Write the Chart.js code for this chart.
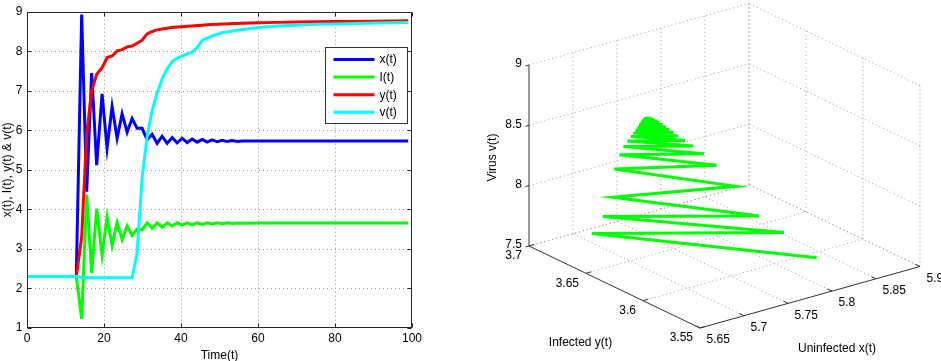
<!DOCTYPE html>
<html>
<head>
<meta charset="utf-8">
<script src="https://cdn.jsdelivr.net/npm/chart.js@4/dist/chart.umd.min.js"></script>
<style>
  html, body { margin: 0; padding: 0; background: #fff; }
  #wrap { position: relative; width: 941px; height: 361px; }
  #left { position: absolute; left: 0; top: 0; }
  #right { position: absolute; left: 470px; top: 0; }
</style>
</head>
<body>
<div id="wrap">
  <canvas id="left" width="470" height="361"></canvas>
  <canvas id="right" width="471" height="361"></canvas>
</div>
<script>
// ---- left panel: time series ----
const timeT = [0, 12.8, 14.2, 15.5, 16.8, 18.1, 19.5, 20.8, 22.1, 23.4, 24.7, 26.0, 27.3, 28.6, 29.9,
  31.2, 32.5, 33.8, 35.1, 36.4, 37.7, 39.0, 40.3, 41.6, 42.9, 44.2, 45.5, 46.8, 48.1, 49.4, 50.7,
  52.0, 53.3, 54.6, 56.0, 60, 65, 70, 75, 80, 85, 90, 95, 99];

const uninfectedX = [2.3, 2.3, 8.93, 4.45, 7.45, 5.12, 6.92, 5.55, 6.6, 5.8, 6.42, 5.95, 6.3, 6.05, 6.05,
  5.76, 5.9, 5.67, 5.85, 5.67, 5.82, 5.68, 5.8, 5.69, 5.78, 5.7, 5.77, 5.7, 5.76, 5.71, 5.75,
  5.715, 5.74, 5.72, 5.73, 5.73, 5.73, 5.73, 5.73, 5.73, 5.73, 5.73, 5.73, 5.73];

const latentI = [2.3, 2.3, 1.23, 4.37, 2.39, 4.02, 2.84, 3.81, 3.09, 3.67, 3.24, 3.58, 3.34, 3.5, 3.48,
  3.66, 3.52, 3.66, 3.55, 3.66, 3.58, 3.66, 3.6, 3.66, 3.61, 3.66, 3.62, 3.66, 3.63, 3.66, 3.64,
  3.66, 3.645, 3.655, 3.65, 3.655, 3.655, 3.655, 3.655, 3.655, 3.655, 3.655, 3.655, 3.655];

const infectedY = [2.3, 2.3, 3.3, 5.9, 7.0, 7.42, 7.58, 7.84, 7.88, 8.01, 8.04, 8.11, 8.13, 8.2, 8.28,
  8.44, 8.5, 8.54, 8.56, 8.58, 8.6, 8.61, 8.62, 8.63, 8.64, 8.65, 8.66, 8.67, 8.675, 8.68, 8.69,
  8.69, 8.7, 8.7, 8.705, 8.72, 8.73, 8.74, 8.745, 8.75, 8.755, 8.76, 8.765, 8.77];

const virusV = [2.3, 2.3, 2.28, 2.27, 2.27, 2.27, 2.27, 2.27, 2.27, 2.27, 2.27, 2.27, 2.27, 2.9, 4.8,
  5.85, 6.5, 6.95, 7.3, 7.55, 7.74, 7.83, 7.88, 7.93, 7.98, 8.1, 8.27, 8.33, 8.39, 8.43, 8.47,
  8.49, 8.51, 8.53, 8.55, 8.6, 8.64, 8.66, 8.68, 8.69, 8.7, 8.715, 8.72, 8.725];

const seriesNames = ['x(t)', 'I(t)', 'y(t)', 'v(t)'];
const seriesColors = ['#0000ff', '#00ff00', '#ff0000', '#00ffff'];

// ---- right panel: 3D trajectory (uninfected x, infected y, virus v) ----
const traj3dX = [5.8332, 5.6717, 5.8097, 5.6796, 5.7918, 5.6868, 5.7751, 5.6879, 5.7614, 5.6915,
  5.7523, 5.6944, 5.7446, 5.6972, 5.7387, 5.6997, 5.7338, 5.7015, 5.7304, 5.7031, 5.7275, 5.7046,
  5.7250, 5.7056, 5.7225, 5.7067, 5.7204, 5.7074, 5.7186, 5.7082, 5.7168, 5.7089, 5.7153, 5.7096,
  5.7139, 5.7107, 5.7125, 5.7115];
const traj3dY = [3.5891, 3.6617, 3.5996, 3.6582, 3.6077, 3.6550, 3.6152, 3.6544, 3.6214, 3.6528,
  3.6255, 3.6515, 3.6289, 3.6502, 3.6316, 3.6491, 3.6338, 3.6483, 3.6353, 3.6476, 3.6366, 3.6470,
  3.6377, 3.6465, 3.6389, 3.6460, 3.6398, 3.6457, 3.6407, 3.6453, 3.6415, 3.6450, 3.6421, 3.6447,
  3.6428, 3.6442, 3.6434, 3.6438];
const traj3dV = [7.5315, 7.7338, 7.7405, 7.8731, 7.8773, 8.0323, 8.1236, 8.2670, 8.2977, 8.3856,
  8.3930, 8.4536, 8.4577, 8.4992, 8.5033, 8.5365, 8.5406, 8.5655, 8.5697, 8.5904, 8.5945, 8.6111,
  8.6153, 8.6318, 8.6360, 8.6484, 8.6526, 8.6625, 8.6650, 8.6733, 8.6758, 8.6816, 8.6833, 8.6866,
  8.6874, 8.6891, 8.6899, 8.6899];

const xTicks3d = [5.65, 5.7, 5.75, 5.8, 5.85, 5.9];
const yTicks3d = [3.55, 3.6, 3.65, 3.7];
const vTicks3d = [7.5, 8, 8.5, 9];

const FONT = "'Liberation Sans', Arial, Helvetica, sans-serif";
Chart.defaults.font.family = FONT;
Chart.defaults.font.size = 12;
Chart.defaults.color = '#000';
Chart.defaults.animation = false;

function line(ctx, x1, y1, x2, y2) {
  ctx.beginPath();
  ctx.moveTo(x1, y1);
  ctx.lineTo(x2, y2);
  ctx.stroke();
}

// dotted grid, box and inward tick marks like matlab axes
const matlabBox = {
  id: 'matlabBox',
  beforeDatasetsDraw(chart) {
    const { ctx, chartArea: a, scales: { x, y } } = chart;
    ctx.save();
    ctx.strokeStyle = '#9a9a9a';
    ctx.lineWidth = 1;
    ctx.setLineDash([1, 3]);
    x.ticks.forEach(t => {
      const px = Math.round(x.getPixelForValue(t.value)) + 0.5;
      if (px < a.left + 2 || px > a.right - 2) return;
      line(ctx, px, a.top, px, a.bottom);
    });
    y.ticks.forEach(t => {
      const py = Math.round(y.getPixelForValue(t.value)) + 0.5;
      if (py < a.top + 2 || py > a.bottom - 2) return;
      line(ctx, a.left, py, a.right, py);
    });
    ctx.restore();
  },
  afterDatasetsDraw(chart) {
    const { ctx, chartArea: a, scales: { x, y } } = chart;
    ctx.save();
    ctx.strokeStyle = '#262626';
    ctx.lineWidth = 1;
    const L = Math.round(a.left) + 0.5, R = Math.round(a.right) - 0.5;
    const T = Math.round(a.top) + 0.5, B = Math.round(a.bottom) - 0.5;
    ctx.strokeRect(L, T, R - L, B - T);
    x.ticks.forEach(t => {
      const px = Math.round(x.getPixelForValue(t.value)) + 0.5;
      line(ctx, px, B, px, B - 4);
      line(ctx, px, T, px, T + 4);
    });
    y.ticks.forEach(t => {
      const py = Math.round(y.getPixelForValue(t.value)) + 0.5;
      line(ctx, L, py, L + 4, py);
      line(ctx, R, py, R - 4, py);
    });
    ctx.restore();
  },
  afterDraw(chart) {
    // legend box in the upper right of the axes
    const { ctx, chartArea: a } = chart;
    const w = 82, rowH = 17.6;
    const left = Math.round(a.right - 87) + 0.5, top = Math.round(a.top + 35) + 0.5;
    const h = 76;
    ctx.save();
    ctx.fillStyle = '#fff';
    ctx.fillRect(left, top, w, h);
    ctx.strokeStyle = '#333';
    ctx.lineWidth = 1;
    ctx.strokeRect(left, top, w, h);
    ctx.font = '12px ' + FONT;
    ctx.textBaseline = 'middle';
    ctx.fillStyle = '#000';
    seriesNames.forEach((name, i) => {
      const yy = top + 12 + i * rowH;
      ctx.strokeStyle = seriesColors[i];
      ctx.lineWidth = 3;
      line(ctx, left + 8, yy, left + 49, yy);
      ctx.fillText(name, left + 54, yy + 0.5);
    });
    ctx.restore();
  }
};

const seriesData = [uninfectedX, latentI, infectedY, virusV];
new Chart(document.getElementById('left'), {
  type: 'scatter',
  data: {
    datasets: seriesData.map((vals, i) => ({
      label: seriesNames[i],
      data: timeT.map((t, k) => ({ x: t, y: vals[k] })),
      showLine: true,
      borderColor: seriesColors[i],
      backgroundColor: seriesColors[i],
      borderWidth: 3,
      pointRadius: 0,
      tension: 0,
      order: 4 - i
    }))
  },
  options: {
    responsive: false,
    devicePixelRatio: 1,
    layout: { padding: { top: 5, right: 58, left: 0, bottom: 0 } },
    plugins: { legend: { display: false }, tooltip: { enabled: false } },
    scales: {
      x: {
        type: 'linear', min: 0, max: 100,
        ticks: { stepSize: 20, padding: 3, font: { size: 12 }, color: '#000' },
        grid: { display: false, drawTicks: false },
        border: { display: false },
        title: { display: true, text: 'Time(t)', padding: { top: 0, bottom: -2 }, font: { size: 12 }, color: '#000' },
        afterFit(s) { s.height = 33; }
      },
      y: {
        type: 'linear', min: 1, max: 9,
        ticks: { stepSize: 1, padding: 4.5, font: { size: 12 }, color: '#000' },
        grid: { display: false, drawTicks: false },
        border: { display: false },
        title: { display: true, text: 'x(t), I(t), y(t) & v(t)', padding: { top: 0, bottom: 0 }, font: { size: 12 }, color: '#000' },
        afterFit(s) { s.width = 27; }
      }
    }
  },
  plugins: [matlabBox]
});

// ---- 3D view: box limits and projected axis directions (view geometry) ----
const xLim3d = [5.65, 5.9], yLim3d = [3.55, 3.7], vLim3d = [7.5, 9];
const dirX = [220, 61.5], dirY = [-171, 82], dirV = [0, 181];

function project(x, y, v) {
  const nx = (x - xLim3d[0]) / (xLim3d[1] - xLim3d[0]);
  const ny = (y - yLim3d[0]) / (yLim3d[1] - yLim3d[0]);
  const nv = (v - vLim3d[0]) / (vLim3d[1] - vLim3d[0]);
  return {
    x: nx * dirX[0] + ny * dirY[0] + nv * dirV[0],
    y: nx * dirX[1] + ny * dirY[1] + nv * dirV[1]
  };
}

const box3d = {
  id: 'box3d',
  beforeDatasetsDraw(chart) {
    const { ctx, scales: { x, y } } = chart;
    const P = (a, b, c) => { const p = project(a, b, c); return [x.getPixelForValue(p.x), y.getPixelForValue(p.y)]; };
    const seg = (p, q) => line(ctx, p[0], p[1], q[0], q[1]);
    const [x0, x1] = xLim3d, [y0, y1] = yLim3d, [v0, v1] = vLim3d;
    ctx.save();
    ctx.strokeStyle = '#9a9a9a';
    ctx.lineWidth = 1;
    ctx.setLineDash([1, 3]);
    // floor
    xTicks3d.forEach(t => { if (t > x0) seg(P(t, y0, v0), P(t, y1, v0)); });
    yTicks3d.forEach(t => { if (t > y0) seg(P(x0, t, v0), P(x1, t, v0)); });
    // back wall (y = max)
    xTicks3d.forEach(t => { if (t > x0) seg(P(t, y1, v0), P(t, y1, v1)); });
    vTicks3d.forEach(t => { seg(P(x0, y1, t), P(x1, y1, t)); });
    // side wall (x = max)
    yTicks3d.forEach(t => { seg(P(x1, t, v0), P(x1, t, v1)); });
    vTicks3d.forEach(t => { seg(P(x1, y0, t), P(x1, y1, t)); });
    ctx.setLineDash([]);
    ctx.strokeStyle = '#333';
    seg(P(x0, y1, v0), P(x0, y1, v1));
    seg(P(x0, y0, v0), P(x0, y1, v0));
    seg(P(x0, y0, v0), P(x1, y0, v0));
    // tick marks
    vTicks3d.forEach(t => seg(P(x0, y1, t), P(x0 - 0.004, y1, t)));
    yTicks3d.forEach(t => seg(P(x0, t, v0), P(x0 + 0.006, t, v0)));
    xTicks3d.forEach(t => seg(P(t, y0, v0), P(t, y0 + 0.004, v0)));
    ctx.restore();
  },
  afterDraw(chart) {
    const { ctx, scales: { x, y } } = chart;
    const P = (a, b, c) => { const p = project(a, b, c); return [x.getPixelForValue(p.x), y.getPixelForValue(p.y)]; };
    const [x0, x1] = xLim3d, [y0, y1] = yLim3d, [v0, v1] = vLim3d;
    ctx.save();
    ctx.fillStyle = '#000';
    ctx.font = '12px ' + FONT;
    ctx.textBaseline = 'middle';
    ctx.textAlign = 'right';
    vTicks3d.forEach(t => { const p = P(x0, y1, t); ctx.fillText(String(t), p[0] - 7, p[1] - 1); });
    yTicks3d.forEach(t => { const p = P(x0, t, v0); ctx.fillText(String(t), p[0] - 7, p[1] + 10); });
    ctx.textAlign = 'left';
    xTicks3d.forEach(t => { const p = P(t, y0, v0); ctx.fillText(String(t), p[0] + 6.5, p[1] + 12); });
    ctx.textAlign = 'center';
    const py = P(x0, (y0 + y1) / 2, v0);
    ctx.fillText('Infected y(t)', py[0] - 34, py[1] + 56);
    const px = P((x0 + x1) / 2, y0, v0);
    ctx.fillText('Uninfected x(t)', px[0] + 27, px[1] + 51);
    const pv = P(x0, y1, (v0 + v1) / 2);
    ctx.translate(pv[0] - 36, pv[1] + 2);
    ctx.rotate(-Math.PI / 2);
    ctx.fillText('Virus v(t)', 0, 0);
    ctx.restore();
  }
};

const corners = [project(xLim3d[0], yLim3d[1], vLim3d[0]), project(xLim3d[1], yLim3d[0], vLim3d[0]),
  project(xLim3d[0], yLim3d[0], vLim3d[0]), project(xLim3d[1], yLim3d[1], vLim3d[1])];

new Chart(document.getElementById('right'), {
  type: 'scatter',
  data: {
    datasets: [{
      data: traj3dX.map((v, i) => project(v, traj3dY[i], traj3dV[i])),
      showLine: true,
      borderColor: '#00ff00',
      borderWidth: 3,
      pointRadius: 0,
      tension: 0,
      clip: false
    }]
  },
  options: {
    responsive: false,
    devicePixelRatio: 1,
    layout: { padding: { left: 59, right: 21, top: 3.5, bottom: 33 } },
    plugins: { legend: { display: false }, tooltip: { enabled: false } },
    scales: {
      x: { type: 'linear', display: false,
        min: Math.min(...corners.map(c => c.x)), max: Math.max(...corners.map(c => c.x)) },
      y: { type: 'linear', display: false,
        min: Math.min(...corners.map(c => c.y)), max: Math.max(...corners.map(c => c.y)) }
    }
  },
  plugins: [box3d]
});
</script>
</body>
</html>
